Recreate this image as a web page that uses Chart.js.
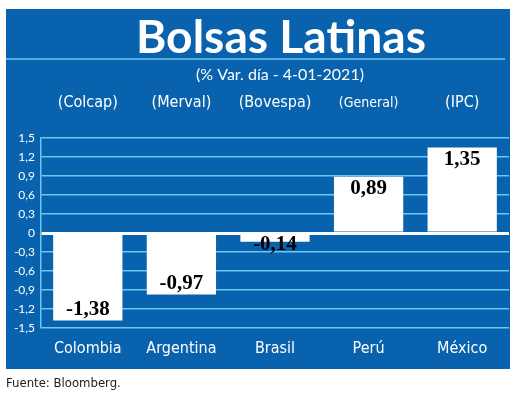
<!DOCTYPE html>
<html>
<head>
<meta charset="utf-8">
<script src="https://cdn.jsdelivr.net/npm/chart.js@4.4.1/dist/chart.umd.min.js"></script>
<style>
    body { margin: 0; background: #fff; }
    #wrap { position: relative; width: 520px; height: 400px; }
    #fuente { position: absolute; left: 6px; top: 375px; font: 13px "DejaVu Sans Condensed", "Liberation Sans", sans-serif; color: #222; }
</style>
</head>
<body>
<div id="wrap">
    <canvas id="grafico" width="520" height="400"></canvas>
    <div id="fuente">Fuente: Bloomberg.</div>
</div>
<script>
// Datos del gráfico
const paises = ['Colombia', 'Argentina', 'Brasil', 'Perú', 'México'];
const indices = ['(Colcap)', '(Merval)', '(Bovespa)', '(General)', '(IPC)'];
const variaciones = [-1.38, -0.97, -0.14, 0.89, 1.35];

const AZUL = '#0862ad';
const CELESTE = '#6ec6f0';
const FUENTE_COND = '"DejaVu Sans Condensed", "Liberation Sans", sans-serif';

function formatoComa(v, dec) {
    return v.toFixed(dec).replace('.', ',');
}

// Fondo azul, título y subtítulo
const fondoPlugin = {
    id: 'fondo',
    beforeDraw(chart) {
        const ctx = chart.ctx;
        ctx.save();
        ctx.fillStyle = AZUL;
        ctx.fillRect(6, 9, 504, 360);

        // línea bajo el título
        ctx.strokeStyle = CELESTE;
        ctx.lineWidth = 1.5;
        ctx.beginPath();
        ctx.moveTo(6, 59);
        ctx.lineTo(505, 59);
        ctx.stroke();

        ctx.fillStyle = '#fff';
        ctx.textAlign = 'center';
        ctx.textBaseline = 'alphabetic';
        ctx.font = 'bold 46px Lato';
        const titulo = 'Bolsas Latinas';
        const ancho = ctx.measureText(titulo).width;
        const escala = 290 / ancho;
        ctx.save();
        ctx.translate(281, 53);
        ctx.scale(escala, 1);
        ctx.fillText(titulo, 0, 0);
        ctx.restore();

        ctx.font = '16px Lato';
        ctx.fillText('(% Var. día - 4-01-2021)', 280, 80);
        ctx.restore();
    }
};

// Etiquetas de valor sobre las barras
const etiquetasPlugin = {
    id: 'etiquetas',
    afterDatasetsDraw(chart) {
        const ctx = chart.ctx;
        const meta = chart.getDatasetMeta(0);
        ctx.save();
        ctx.font = 'bold 21px "Liberation Serif"';
        ctx.fillStyle = '#000';
        ctx.textAlign = 'center';
        ctx.textBaseline = 'middle';
        meta.data.forEach((barra, i) => {
            const v = variaciones[i];
            const alto = Math.abs(barra.base - barra.y);
            let y;
            if (alto < 24) {
                y = barra.y + (v < 0 ? 3 : -3);
            } else {
                y = barra.y + (v < 0 ? -11 : 12);
            }
            ctx.fillText(formatoComa(v, 2), barra.x, y);
        });
        ctx.restore();
    }
};

new Chart(document.getElementById('grafico'), {
    type: 'bar',
    data: {
        labels: paises,
        datasets: [{
            data: variaciones,
            backgroundColor: '#ffffff',
            borderWidth: 0,
            barPercentage: 0.74,
            categoryPercentage: 1
        }]
    },
    options: {
        responsive: false,
        animation: false,
        layout: { padding: { left: 6, right: 11, top: 86, bottom: 30 } },
        plugins: {
            legend: { display: false },
            tooltip: { enabled: false }
        },
        scales: {
            x: {
                grid: { display: false },
                border: { display: false },
                ticks: {
                    color: '#fff',
                    padding: 3,
                    font: { family: FUENTE_COND, size: 16 }
                },
                afterFit(scale) { scale.height = 42; }
            },
            x2: {
                type: 'category',
                labels: indices,
                position: 'top',
                grid: { display: false },
                border: { display: false },
                ticks: {
                    color: '#fff',
                    padding: 18,
                    font: (c) => ({
                        family: FUENTE_COND,
                        size: c.index === 3 ? 14 : 16
                    })
                },
                afterFit(scale) { scale.height = 52; }
            },
            y: {
                min: -1.5,
                max: 1.5,
                border: { color: CELESTE, width: 1.5 },
                grid: {
                    drawTicks: false,
                    color: (c) => c.tick && c.tick.value === 0 ? '#ffffff' : CELESTE,
                    lineWidth: (c) => c.tick && c.tick.value === 0 ? 3 : 1.5
                },
                ticks: {
                    stepSize: 0.3,
                    color: '#fff',
                    padding: 6,
                    font: { family: 'Lato', size: 12 },
                    callback: (v) => Math.abs(v) < 1e-9 ? '0' : formatoComa(v, 1)
                },
                afterFit(scale) { scale.width = 35; }
            }
        }
    },
    plugins: [fondoPlugin, etiquetasPlugin]
});
</script>
</body>
</html>
